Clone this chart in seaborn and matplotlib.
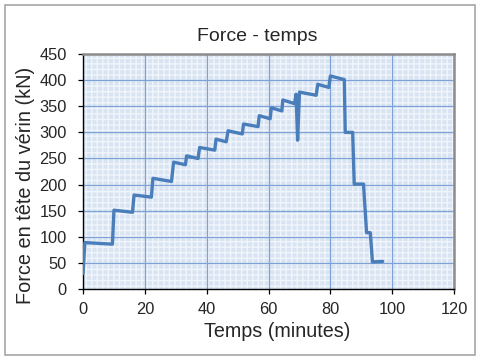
import numpy as np
import pandas as pd
import matplotlib
matplotlib.use("Agg")
import matplotlib.pyplot as plt
import seaborn as sns
from matplotlib.patches import Rectangle

# Temps (minutes) et force (kN)
temps = [0.0, 0.6, 9.5, 10.0, 16.0, 16.5, 22.1, 22.6, 28.6, 29.3, 33.1, 33.5,
         37.2, 37.7, 42.6, 43.0, 46.3, 46.9, 51.5, 51.9, 56.6, 57.0, 60.5, 60.9,
         64.3, 64.6, 68.4, 68.9, 69.4, 70.0, 75.4, 75.9, 79.5, 80.0, 84.5, 84.8,
         87.2, 87.7, 90.7, 91.7, 92.9, 93.6, 96.9]
force = [30, 89, 86, 151, 147, 180, 176, 212, 206, 243, 238, 255,
         250, 271, 266, 287, 282, 303, 297, 316, 311, 332, 326, 347,
         341, 362, 355, 373, 285, 377, 371, 392, 386, 408, 401, 300,
         300, 201, 201, 108, 108, 52, 53]

df = pd.DataFrame({"temps": temps, "force": force})

sns.set_style("white")
plt.rcParams["font.family"] = ["Liberation Sans", "DejaVu Sans"]

fig = plt.figure(figsize=(4.8, 3.6), dpi=100)
ax = fig.add_axes([0.173, 0.197, 0.773, 0.653])

# fond quadrillé façon Excel
ax.set_facecolor("#d9e4f3")
ax.add_patch(Rectangle((0, 0), 1, 1, transform=ax.transAxes, facecolor="none",
                       edgecolor="#f0f5fb", hatch="+++", linewidth=0, zorder=0.5))
ax.set_axisbelow(True)
ax.grid(True, color="#7da2d6", linewidth=0.9, zorder=1)

sns.lineplot(data=df, x="temps", y="force", sort=False, estimator=None,
             color="#4a7ebb", linewidth=2.4, ax=ax, zorder=3)

ax.set_xlim(0, 120)
ax.set_ylim(0, 450)
ax.set_xticks(np.arange(0, 121, 20))
ax.set_yticks(np.arange(0, 451, 50))
ax.tick_params(axis="both", labelsize=11.8, length=3.6, direction="out",
               bottom=True, left=True, color="black", width=0.9)
ax.tick_params(axis="x", pad=6)
ax.tick_params(axis="y", pad=8)

for side in ["left", "bottom"]:
    ax.spines[side].set_color("black")
    ax.spines[side].set_linewidth(1.0)
for side in ["top", "right"]:
    ax.spines[side].set_color("#8c8c8c")
    ax.spines[side].set_linewidth(1.8)

ax.set_title("Force - temps", fontsize=14, pad=9, x=0.469)
ax.set_xlabel("Temps (minutes)", fontsize=14.2, labelpad=3, x=0.522)
ax.set_ylabel("Force en tête du vérin (kN)", fontsize=14.3)
ax.yaxis.set_label_coords(-0.129, 0.443)

# cadre du graphique
fig.patches.append(Rectangle((5 / 480, 5 / 360), 1 - 10 / 480, 1 - 10 / 360,
                             transform=fig.transFigure, fill=False,
                             edgecolor="#a6a6a6", linewidth=1.2))

fig.savefig("out.png", dpi=100)
